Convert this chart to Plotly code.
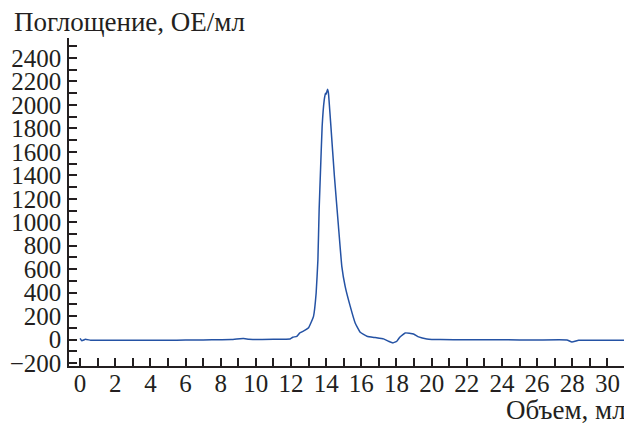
import plotly.graph_objects as go

# Elution profile (volume in ml, absorbance in OE/ml)
volume = [0.0, 0.1, 0.3, 0.6, 1.0, 2.0, 3.0, 4.0, 5.0, 6.0, 7.0, 8.0, 8.6, 9.1, 9.3, 9.6, 10.0,
          11.0, 11.95, 12.1, 12.33, 12.5, 12.8, 13.0, 13.09, 13.28, 13.43, 13.53, 13.6, 13.68,
          13.77, 13.89, 13.96, 14.0, 14.04, 14.08, 14.13, 14.27, 14.47, 14.7, 14.89, 15.08,
          15.37, 15.65, 15.94, 16.32, 16.79, 17.26, 17.55, 17.8, 18.02, 18.2, 18.5, 18.97,
          19.26, 19.73, 20.5, 22.0, 24.0, 26.0, 27.7, 27.98, 28.36, 29.0, 30.0, 31.0]
absorbance = [10, -10, 2, -5, -6, -6, -6, -6, -5, -4, -3, -1, 0, 8, 9, 4, 0,
              2, 5, 20, 28, 57, 80, 100, 128, 198, 397, 681, 1106, 1447,
              1815, 2043, 2100, 2090, 2113, 2134, 2100, 1815, 1390, 964, 624, 454,
              283, 142, 62, 28, 17, 6, -14, -28, -14, 23, 57, 48,
              23, 6, 0, -1, -2, -3, -3, -20, -6, -5, -5, -5]

x_ticks = list(range(0, 31, 2))
y_ticks = list(range(-200, 2401, 200))

font_family = "Liberation Serif"
text_color = "#231f20"
FS_TICK = 25
FS_TITLE = 27

# page body has an 8px margin: figure is drawn at (8, 8)
W, H = 624, 415
L, R, T, B = 61, 7, 30, 57
PW, PH = W - L - R, H - T - B

fig = go.Figure()
fig.add_trace(go.Scatter(x=volume, y=absorbance, mode="lines",
                         line=dict(color="#2452a4", width=1.5, shape="spline", smoothing=0.3),
                         showlegend=False, hoverinfo="skip"))

axis_common = dict(ticks="inside", ticklen=8, tickwidth=1.5, tickcolor=text_color,
                   showline=True, linecolor=text_color, linewidth=1.5, showgrid=False,
                   zeroline=False, automargin=False,
                   tickfont=dict(size=FS_TICK, family=font_family, color=text_color))

fig.update_layout(
    width=W, height=H,
    margin=dict(l=L, r=R, t=T, b=B),
    paper_bgcolor="white", plot_bgcolor="white",
    font=dict(family=font_family, size=FS_TICK, color=text_color),
    xaxis=dict(range=[-0.63, 31.0], tickvals=x_ticks, ticklabelstandoff=-6,
               minor=dict(dtick=1, tick0=0, ticks="inside", ticklen=8, tickwidth=1.5,
                          tickcolor=text_color, showgrid=False),
               **axis_common),
    yaxis=dict(range=[-225, 2570], tickvals=y_ticks, ticklabelstandoff=1,
               minor=dict(dtick=100, tick0=0, ticks="inside", ticklen=8, tickwidth=1.5,
                          tickcolor=text_color, showgrid=False),
               **axis_common),
    annotations=[
        dict(text="Поглощение, ОЕ/мл", xref="paper", yref="paper", x=-(L - 4) / PW,
             y=1 + (T - 14) / PH, xanchor="left", yanchor="middle", showarrow=False,
             font=dict(size=FS_TITLE, family=font_family, color=text_color)),
        dict(text="Объем, мл", xref="paper", yref="paper", x=1 + 3 / PW, y=-44 / PH,
             xanchor="right", yanchor="middle", showarrow=False,
             font=dict(size=FS_TITLE, family=font_family, color=text_color)),
    ],
)

fig.write_html("out.html")
